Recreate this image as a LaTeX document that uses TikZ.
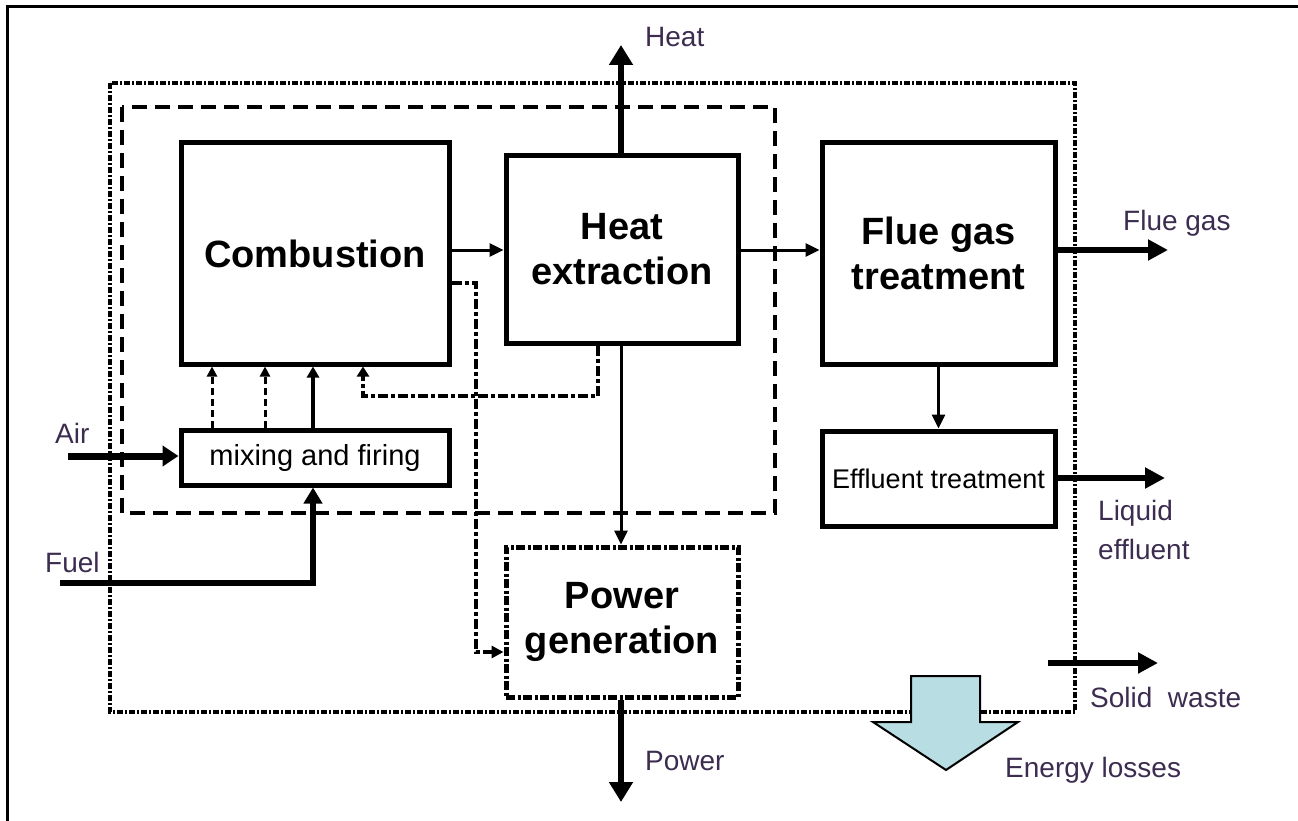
\documentclass[tikz,border=0pt]{standalone}
\usepackage{fontspec}
\setmainfont{Liberation Sans}
\usetikzlibrary{arrows.meta}
\definecolor{labc}{RGB}{60,45,80}
\definecolor{lossc}{RGB}{184,221,226}
\begin{document}
\begin{tikzpicture}[x=1pt,y=-1pt,
  box/.style={draw, line width=5pt, inner sep=0pt, align=center,
    font=\bfseries\fontsize{38}{45}\selectfont},
  smallbox/.style={draw, line width=5pt, inner sep=0pt, align=center,
    font=\fontsize{27}{30}\selectfont},
  lbl/.style={text=labc, font=\fontsize{28}{38}\selectfont, inner sep=0pt},
  tipS/.tip={Triangle[length=14pt,width=13pt]},
  tipL/.tip={Triangle[length=20pt,width=23pt]},
  thinarr/.style={line width=3pt, -tipS},
  bigarr/.style={line width=6pt, -tipL},
  fb/.style={line width=4pt, dash pattern=on 10pt off 3pt on 4pt off 3pt},
  dsh/.style={line width=3pt, dash pattern=on 7pt off 4pt},
]
\useasboundingbox (0,0) rectangle (1298,821);
% page frame
\draw[line width=3pt] (7,821) -- (7,7) -- (1298,7);

% boundaries
\draw[line width=4pt, dash pattern=on 6pt off 2pt on 2pt off 2pt]
  (110,83) rectangle (1075,712);
\draw[line width=4pt, dash pattern=on 15pt off 8pt]
  (122,107) rectangle (775,513);

% boxes
\node[box, minimum width=268pt, minimum height=221pt] (comb) at (315,253.5) {Combustion};
\node[box, minimum width=232pt, minimum height=187pt] (he) at (622,249.5) {Heat\\extraction};
\node[box, minimum width=233pt, minimum height=221pt] (fg) at (938.5,253.5) {Flue gas\\treatment};
\node[smallbox, minimum width=268pt, minimum height=55pt, font=\fontsize{29}{30}\selectfont] (mix) at (315,457.5) {mixing and firing};
\node[smallbox, minimum width=233pt, minimum height=95pt] (eff) at (938.5,478.5) {Effluent treatment};
\node[box, minimum width=232pt, minimum height=150pt,
  dash pattern=on 9pt off 2.5pt on 3pt off 2.5pt] (pg) at (622,622) {Power\\generation};

% coordinates
\coordinate (m1) at (212,0);
\coordinate (m2) at (265,0);
\coordinate (m3) at (313,0);
\coordinate (airS) at (68,456);
\coordinate (fuelS) at (60,583);
\coordinate (fbL) at (363,396);
\coordinate (cpR) at (476,283);
\coordinate (cpB) at (476,652);
\coordinate (heatT) at (621,45);
\coordinate (powB) at (621,802);
\coordinate (flueE) at (1168,250);
\coordinate (effE) at (1165,478);
\coordinate (sw1) at (1048,663);
\coordinate (sw2) at (1158,663);
\coordinate (ch) at (0,250);

% mixing -> combustion
\draw[dsh, -{Triangle[length=10pt,width=10pt]}] (m1 |- mix.north) -- (m1 |- comb.south);
\draw[dsh, -{Triangle[length=10pt,width=10pt]}] (m2 |- mix.north) -- (m2 |- comb.south);
\draw[line width=4pt, -{Triangle[length=11pt,width=12pt]}] (m3 |- mix.north) -- (m3 |- comb.south);

% air, fuel
\draw[line width=7pt, -{Triangle[length=16pt,width=20pt]}] (airS) -- (mix.west |- airS);
\draw[line width=6pt, -{Triangle[length=16pt,width=18pt]}] (fuelS) -| (m3 |- mix.south);

% main flow
\draw[thinarr] (comb.east |- ch) -- (he.west |- ch);
\draw[thinarr] (he.east |- ch) -- (fg.west |- ch);
\draw[bigarr] (he.north -| heatT) -- (heatT);
\draw[thinarr] (he.south -| heatT) -- (pg.north -| heatT);
\draw[bigarr] (pg.south -| powB) -- (powB);
\draw[line width=6pt, -{Triangle[length=20pt,width=20pt]}] (fg.east |- flueE) -- (flueE);
\draw[thinarr] (fg.south) -- (eff.north);
\draw[line width=6pt, -{Triangle[length=20pt,width=20pt]}] (eff.east |- effE) -- (effE);
\draw[line width=6pt, -{Triangle[length=20pt,width=20pt]}] (sw1) -- (sw2);

% feedback lines
\draw[fb, -{Triangle[length=10pt,width=12pt]}] ([xshift=94pt]he.south west) |- (fbL) -- (fbL |- comb.south);
\draw[fb, -{Triangle[length=12pt,width=12pt]}] (comb.east |- cpR) -- (cpR) -- (cpB) -- (pg.west |- cpB);

% energy losses block arrow
\draw[line width=2pt, fill=lossc] (911,676) -- (980,676) -- (980,722) -- (1018,722)
  -- (946,770) -- (873,722) -- (911,722) -- cycle;

% labels
\node[lbl, anchor=base west] (lheat) at (645,47) {Heat};
\node[lbl, anchor=base west] (lflue) at (1123,230) {Flue gas};
\node[lbl, anchor=base west] (lliq) at (1098,520) {Liquid};
\node[lbl, anchor=base west] (leff) at (1098,559) {effluent};
\node[lbl, anchor=base west] (lsw) at (1090,707) {Solid\ \ waste};
\node[lbl, anchor=base west] (lel) at (1005,777) {Energy losses};
\node[lbl, anchor=base west] (lpow) at (645,770) {Power};
\node[lbl, anchor=base west] (lair) at (55,443) {Air};
\node[lbl, anchor=base west] (lfuel) at (45,572) {Fuel};
\end{tikzpicture}
\end{document}
